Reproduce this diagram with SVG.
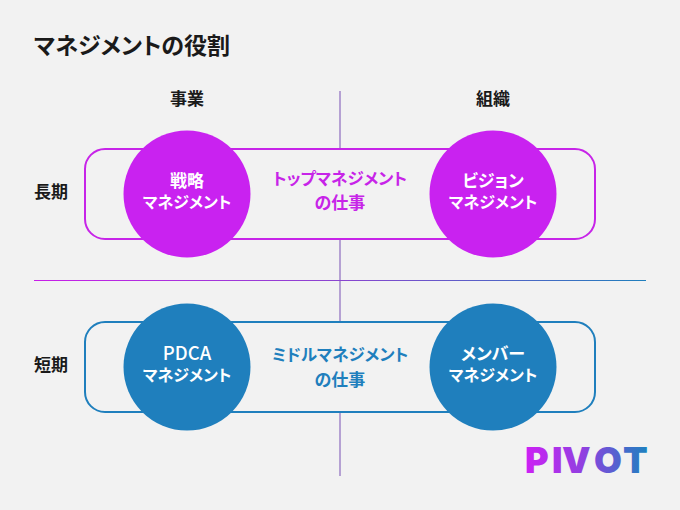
<svg xmlns="http://www.w3.org/2000/svg" width="680" height="510" viewBox="0 0 680 510">
  <style>
    text { font-family: "Noto Sans CJK JP", "Noto Sans", sans-serif; font-weight: 700; text-anchor: middle; font-feature-settings: "palt"; }
    .title { font-size: 23px; fill: #1a1a1a; text-anchor: start; }
    .axis { font-size: 17px; fill: #1a1a1a; }
    .in { font-size: 16px; fill: #ffffff; }
    .big { font-size: 17px; }
    .latin { font-size: 18.5px; font-weight: 500; }
    .pink { font-size: 16.5px; fill: #c724e8; }
    .blue { font-size: 16.5px; fill: #1f7fbd; }
    .frame { fill: none; stroke-width: 2; }
    .vline { stroke: #a086c8; stroke-width: 1.5; }
    .logo { font-family: "Inter", "Liberation Sans", sans-serif; font-weight: 900; font-size: 36px; fill: url(#logoGrad); text-anchor: start; font-feature-settings: normal; }
  </style>
  <defs>
    <linearGradient id="hGrad" gradientUnits="userSpaceOnUse" x1="34" y1="0" x2="646" y2="0">
      <stop offset="0" stop-color="#c81ee8"/>
      <stop offset="0.5" stop-color="#8a45d0"/>
      <stop offset="1" stop-color="#1f7fbd"/>
    </linearGradient>
    <linearGradient id="logoGrad" gradientUnits="userSpaceOnUse" x1="522" y1="0" x2="646" y2="0">
      <stop offset="0" stop-color="#d01ff5"/>
      <stop offset="0.5" stop-color="#8f41e0"/>
      <stop offset="1" stop-color="#2080c0"/>
    </linearGradient>
  </defs>
  <rect width="680" height="510" fill="#f2f2f2"/>

  <text class="title" x="34" y="54">マネジメントの役割</text>

  <g id="connectors">
    <line class="vline" x1="340" y1="91" x2="340" y2="149"/>
    <line class="vline" x1="340" y1="239" x2="340" y2="322"/>
    <line class="vline" x1="340" y1="412" x2="340" y2="476"/>
    <line x1="34" y1="280.5" x2="646" y2="280.5" stroke="url(#hGrad)" stroke-width="1.2"/>
  </g>

  <g id="axis-labels">
    <text class="axis" x="187" y="105">事業</text>
    <text class="axis" x="493" y="105">組織</text>
    <text class="axis" x="51" y="198">長期</text>
    <text class="axis" x="51" y="371">短期</text>
  </g>

  <g id="top-management">
    <rect class="frame" x="85" y="149" width="510" height="90" rx="20" stroke="#c724e8"/>
    <text class="pink"><tspan x="340" y="185">トップマネジメント</tspan><tspan class="big" x="340" y="209">の仕事</tspan></text>
  </g>
  <g id="middle-management">
    <rect class="frame" x="85" y="322" width="510" height="90" rx="20" stroke="#1f7fbd"/>
    <text class="blue"><tspan x="340" y="361">ミドルマネジメント</tspan><tspan class="big" x="340" y="386">の仕事</tspan></text>
  </g>

  <g id="strategy">
    <circle cx="187" cy="194" r="63.5" fill="#c922f0"/>
    <text class="in"><tspan class="big" x="187" y="187">戦略</tspan><tspan x="187" y="208">マネジメント</tspan></text>
  </g>
  <g id="vision">
    <circle cx="493" cy="194" r="63.5" fill="#c922f0"/>
    <text class="in"><tspan class="big" x="493" y="187">ビジョン</tspan><tspan x="493" y="208">マネジメント</tspan></text>
  </g>
  <g id="pdca">
    <circle cx="187" cy="367" r="63.5" fill="#1f7fbd"/>
    <text class="in"><tspan class="latin" x="187" y="360">PDCA</tspan><tspan x="187" y="381">マネジメント</tspan></text>
  </g>
  <g id="member">
    <circle cx="493" cy="367" r="63.5" fill="#1f7fbd"/>
    <text class="in"><tspan class="big" x="493" y="360">メンバー</tspan><tspan x="493" y="381">マネジメント</tspan></text>
  </g>

  <g id="logo">
    <text class="logo" x="525 552 562 594 623" y="473">PIVOT</text>
  </g>
</svg>
